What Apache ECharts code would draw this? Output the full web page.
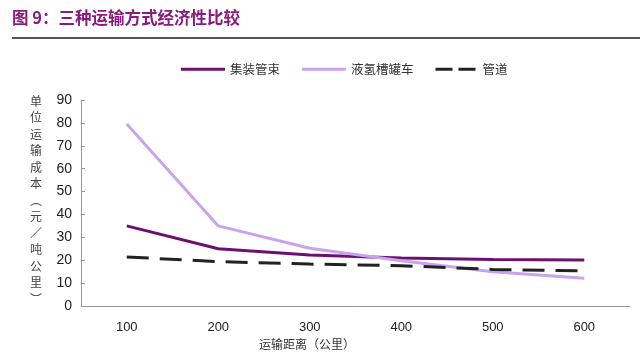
<!DOCTYPE html>
<html><head><meta charset="utf-8">
<script src="https://cdn.jsdelivr.net/npm/echarts@6/dist/echarts.min.js"></script>
<style>html,body{margin:0;padding:0;background:#fff}#c{width:640px;height:354px}</style>
</head><body><div id="c"></div>
<script>
const categories = ['100', '200', '300', '400', '500', '600'];
const tubeTrailer = [35, 25, 22.3, 21, 20.3, 20.1];
const liquidTanker = [79.5, 35, 25.2, 19.8, 15, 12.1];
const pipeline = [21.4, 19.4, 18.3, 17.6, 16, 15.3];
const seriesNames = ['集装管束', '液氢槽罐车', '管道'];
const titleText = '图 9：三种运输方式经济性比较';
const yName = ['单','位','运','输','成','本','︵','元','／','吨','公','里','︶'];
const xName = '运输距离（公里）';

const chart = echarts.init(document.getElementById('c'));
const cjk = '"Noto Sans CJK SC", sans-serif';
const solidIcon = 'path://M0,0h44v3h-44z';
const dashIcon = 'path://M0,0h17v3h-17z M23,0h17v3h-17z';
chart.setOption({
  animation: false,
  backgroundColor: '#fff',
  grid: { left: 81, right: 10, top: 100, bottom: 48, containLabel: false },
  legend: {
    top: 58, left: 176, itemGap: 22, itemWidth: 44, itemHeight: 3,
    textStyle: { fontFamily: cjk, fontSize: 12.5, color: '#333' },
    data: [
      { name: seriesNames[0], icon: solidIcon },
      { name: seriesNames[1], icon: solidIcon },
      { name: seriesNames[2], icon: dashIcon, itemWidth: 40 }
    ]
  },
  graphic: [
    { type: 'text', left: 12, top: 9, style: { text: titleText, fill: '#8a1a7e', font: 'bold 16.5px "Noto Sans CJK SC", sans-serif' } },
    { type: 'rect', shape: { x: 12, y: 37, width: 628, height: 2 }, style: { fill: '#555' } },
    { type: 'text', left: 30, top: 93, style: { text: yName.join('\n'), fill: '#444', font: '12px "Noto Sans CJK SC", sans-serif', lineHeight: 16.5 } },
    { type: 'text', left: 259, top: 338, style: { text: xName, fill: '#333', font: '12px "Noto Sans CJK SC", sans-serif' } }
  ],
  xAxis: {
    type: 'category', data: categories, boundaryGap: true,
    axisLine: { lineStyle: { color: '#999', width: 1 } },
    axisTick: { inside: true, length: 4, lineStyle: { color: '#999' } },
    axisLabel: { fontFamily: 'Arial, "Liberation Sans"', fontSize: 13, color: '#222', margin: 15 }
  },
  yAxis: {
    type: 'value', min: 0, max: 90, interval: 10,
    splitLine: { show: false },
    axisLine: { show: true, lineStyle: { color: '#999', width: 1 } },
    axisTick: { show: true, inside: true, length: 4, lineStyle: { color: '#999' } },
    axisLabel: { fontFamily: 'Arial, "Liberation Sans"', fontSize: 14, color: '#222', margin: 9 }
  },
  series: [
    { name: seriesNames[0], type: 'line', data: tubeTrailer, symbol: 'none', smooth: false,
      lineStyle: { color: '#6d0f6e', width: 3 }, itemStyle: { color: '#6d0f6e' } },
    { name: seriesNames[1], type: 'line', data: liquidTanker, symbol: 'none',
      lineStyle: { color: '#c9a3ee', width: 3 }, itemStyle: { color: '#c9a3ee' } },
    { name: seriesNames[2], type: 'line', data: pipeline, symbol: 'none', z: 3,
      lineStyle: { color: '#222', width: 3, type: [22, 11] }, itemStyle: { color: '#222' } }
  ]
});
</script></body></html>
